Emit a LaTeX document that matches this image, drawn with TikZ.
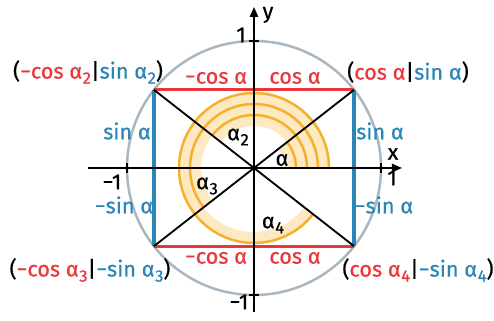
\documentclass[tikz,border=0pt]{standalone}
\usepackage{fontspec}
\setmainfont{Fira Sans}[UprightFeatures={FakeBold=0.6}]
\usetikzlibrary{arrows.meta}
\definecolor{cosred}{HTML}{E8383D}
\definecolor{sinblue}{HTML}{2B86B6}
\definecolor{unitgray}{HTML}{A8B7C2}
\definecolor{arcorange}{HTML}{F7B02B}
\definecolor{arclt}{HTML}{FDE9C2}
\newcommand{\asub}[1]{α\kern0.3pt\raisebox{-0.45ex}{\fontsize{10}{10}\selectfont #1}}
\tikzset{
  lbl/.style={font=\fontsize{13}{15}\selectfont, inner sep=0pt},
  redlbl/.style={lbl, text=cosred},
  bluelbl/.style={lbl, text=sinblue},
  ax/.style={-{Triangle[length=6pt,width=5pt]}, line width=1pt},
  tick/.style={line width=1pt},
  cosline/.style={draw=cosred, line width=1.9pt},
  sinline/.style={draw=sinblue, line width=1.9pt},
  arcline/.style={draw=arcorange, line width=1.5pt}
}

\begin{document}
\begin{tikzpicture}[x=0.6pt,y=0.6pt]
  \useasboundingbox (-254,-153) rectangle (240,168);

  % angle bands and arcs
  \foreach \r/\a in {42/38, 53/142, 64/218, 75/322} {
    \fill[arclt] (0:\r-11) -- (0:\r) arc[start angle=0, end angle=\a, radius=\r]
      -- (\a:\r-11) arc[start angle=\a, end angle=0, radius=\r-11] -- cycle;
  }
  \foreach \r/\a in {42/38, 53/142, 64/218, 75/322} {
    \draw[arcline] (0:\r) arc[start angle=0, end angle=\a, radius=\r];
  }

  % unit circle
  \draw[unitgray, line width=1.5pt] (0,0) circle (127);

  % corners
  \coordinate (p1) at (38:127);
  \coordinate (p2) at (142:127);
  \coordinate (p3) at (218:127);
  \coordinate (p4) at (322:127);
  \coordinate (o) at (0,0);

  \draw[cosline] (p2) -- (p1);
  \draw[cosline] (p3) -- (p4);
  \draw[sinline] (p2) -- (p3);
  \draw[sinline] (p1) -- (p4);
  \draw[line width=1.1pt] (p1) -- (p3);
  \draw[line width=1.1pt] (p2) -- (p4);

  % axes
  \coordinate (xs) at (-166,0);
  \coordinate (xe) at (148,0);
  \coordinate (ys) at (0,-144);
  \coordinate (ye) at (0,161);
  \draw[ax] (xs) -- (xe);
  \draw[ax] (ys) -- (ye);
  \foreach \t in {-127,127} {
    \draw[tick] (\t,-5) -- (\t,5);
    \draw[tick] (-5,\t) -- (5,\t);
  }
  \node[lbl] (xlbl) at (139,14) {x};
  \node[lbl] (ylbl) at (14,153) {y};
  \node[lbl] (x1) at (138,-10) {1};
  \node[lbl] (xm1) at (-142,-14) {−1};
  \node[lbl] (y1) at (-13,133) {1};
  \node[lbl] (ym1) at (-15,-134) {−1};

  % side labels
  \node[redlbl] (ct1) at (-38,90) {−cos α};
  \node[redlbl] (ct2) at (41,90) {cos α};
  \node[redlbl] (cb1) at (-38,-90) {−cos α};
  \node[redlbl] (cb2) at (41,-90) {cos α};
  \node[bluelbl] (sl1) at (-127,37) {sin α};
  \node[bluelbl] (sl2) at (-130,-37) {−sin α};
  \node[bluelbl] (sr1) at (126,37) {sin α};
  \node[bluelbl] (sr2) at (130,-37) {−sin α};

  % angle labels
  \node[lbl] (a1) at (28,8) {α};
  \node[lbl] (a2) at (-16,31) {\asub{2}};
  \node[lbl] (a3) at (-47,-18) {\asub{3}};
  \node[lbl] (a4) at (19,-57) {\asub{4}};

  % point labels
  \node[lbl] (l1) at (154,96) {(\textcolor{cosred}{cos α}|\textcolor{sinblue}{sin α})};
  \node[lbl] (l2) at (-166,96) {(\textcolor{cosred}{−cos \asub{2}}|\textcolor{sinblue}{sin \asub{2}})};
  \node[lbl] (l3) at (-164,-102) {(\textcolor{cosred}{−cos \asub{3}}|\textcolor{sinblue}{−sin \asub{3}})};
  \node[lbl] (l4) at (164,-102) {(\textcolor{cosred}{cos \asub{4}}|\textcolor{sinblue}{−sin \asub{4}})};
\end{tikzpicture}
\end{document}
